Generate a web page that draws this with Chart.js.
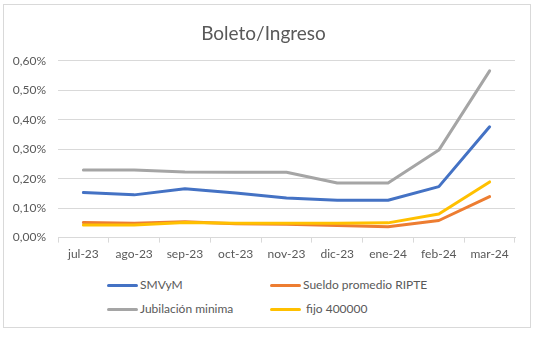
<!DOCTYPE html>
<html>
<head>
<meta charset="utf-8">
<script src="https://cdn.jsdelivr.net/npm/chart.js@4"></script>
<style>
  html, body { margin: 0; padding: 0; background: #fff; }
  body { width: 539px; height: 337px; position: relative; overflow: hidden; font-family: Lato, "Noto Sans", sans-serif; }
  #frame { position: absolute; left: 3px; top: 4px; width: 526px; height: 322px; border: 1px solid #d9d9d9; }
  #wrap { position: absolute; left: 4px; top: 5px; width: 526px; height: 262px; }
  #legend { position: absolute; left: 0; top: 277px; width: 539px; font-size: 12px; color: #595959; }
  .item { position: absolute; height: 16px; line-height: 16px; white-space: nowrap; }
  .item span.sw { display: inline-block; width: 31px; height: 3px; border-radius: 2px; vertical-align: middle; margin-right: 2px; }
</style>
</head>
<body>
<div id="frame"></div>
<div id="wrap"><canvas id="grafico"></canvas></div>
<div id="legend"></div>
<script>
const meses = ['jul-23', 'ago-23', 'sep-23', 'oct-23', 'nov-23', 'dic-23', 'ene-24', 'feb-24', 'mar-24'];
const smvym = [0.153, 0.145, 0.166, 0.151, 0.134, 0.127, 0.127, 0.173, 0.376];
const ripte = [0.051, 0.049, 0.054, 0.047, 0.045, 0.041, 0.037, 0.058, 0.139];
const jubilacion = [0.229, 0.229, 0.223, 0.222, 0.222, 0.185, 0.185, 0.297, 0.566];
const fijo = [0.043, 0.043, 0.051, 0.049, 0.049, 0.049, 0.050, 0.080, 0.189];
const nombres = ['SMVyM', 'Sueldo promedio RIPTE', 'Jubilación minima', ' fijo 400000'];
const colores = ['#4472C4', '#ED7D31', '#A5A5A5', '#FFC000'];

const gris = '#595959';

function serie(i, datos) {
    return {
        label: nombres[i],
        data: datos,
        borderColor: colores[i],
        backgroundColor: colores[i],
        borderWidth: 3,
        pointRadius: 0,
        tension: 0,
        borderCapStyle: 'round',
        borderJoinStyle: 'round',
        order: 4 - i // como en Excel, la ultima serie queda arriba
    };
}

// leyenda en grilla de 2 columnas, como la original
const leyendaHtml = {
    id: 'leyendaHtml',
    afterUpdate(chart) {
        const cont = document.getElementById('legend');
        cont.innerHTML = '';
        const posX = [107, 270];
        chart.data.datasets.forEach((ds, i) => {
            const div = document.createElement('div');
            div.className = 'item';
            div.style.left = posX[i % 2] + 'px';
            div.style.top = (Math.floor(i / 2) * 24) + 'px';
            div.innerHTML = '<span class="sw" style="background:' + ds.borderColor + '"></span>' + ds.label.replace(/ /g, '&nbsp;');
            cont.appendChild(div);
        });
    }
};

window.onload = function() {
    const ctx = document.getElementById('grafico').getContext('2d');
    new Chart(ctx, {
        type: 'line',
        data: {
            labels: meses,
            datasets: [
                serie(0, smvym),
                serie(1, ripte),
                serie(2, jubilacion),
                serie(3, fijo)
            ]
        },
        options: {
            responsive: true,
            maintainAspectRatio: false,
            animation: false,
            layout: {
                padding: { left: 8, right: 15, top: 0, bottom: 2 }
            },
            scales: {
                x: {
                    offset: true,
                    grid: {
                        offset: true,
                        drawOnChartArea: false,
                        tickLength: 5,
                        color: '#d9d9d9'
                    },
                    border: { color: '#d9d9d9' },
                    ticks: {
                        color: gris,
                        padding: 4,
                        maxRotation: 0,
                        font: { family: 'Lato', size: 12 }
                    }
                },
                y: {
                    min: 0,
                    max: 0.6,
                    afterFit: (scale) => { scale.width = 46; },
                    grid: {
                        color: '#d9d9d9',
                        drawTicks: false
                    },
                    border: { display: false },
                    ticks: {
                        stepSize: 0.1,
                        color: gris,
                        padding: 12,
                        font: { family: 'Lato', size: 12 },
                        callback: (value) => value.toFixed(2).replace('.', ',') + '%'
                    }
                }
            },
            plugins: {
                legend: { display: false },
                tooltip: { enabled: false },
                title: {
                    display: true,
                    text: 'Boleto/Ingreso',
                    color: gris,
                    padding: { top: 17, bottom: 16 },
                    font: { family: 'Lato', size: 19, weight: 'normal' }
                }
            }
        },
        plugins: [leyendaHtml]
    });
};
</script>
</body>
</html>
